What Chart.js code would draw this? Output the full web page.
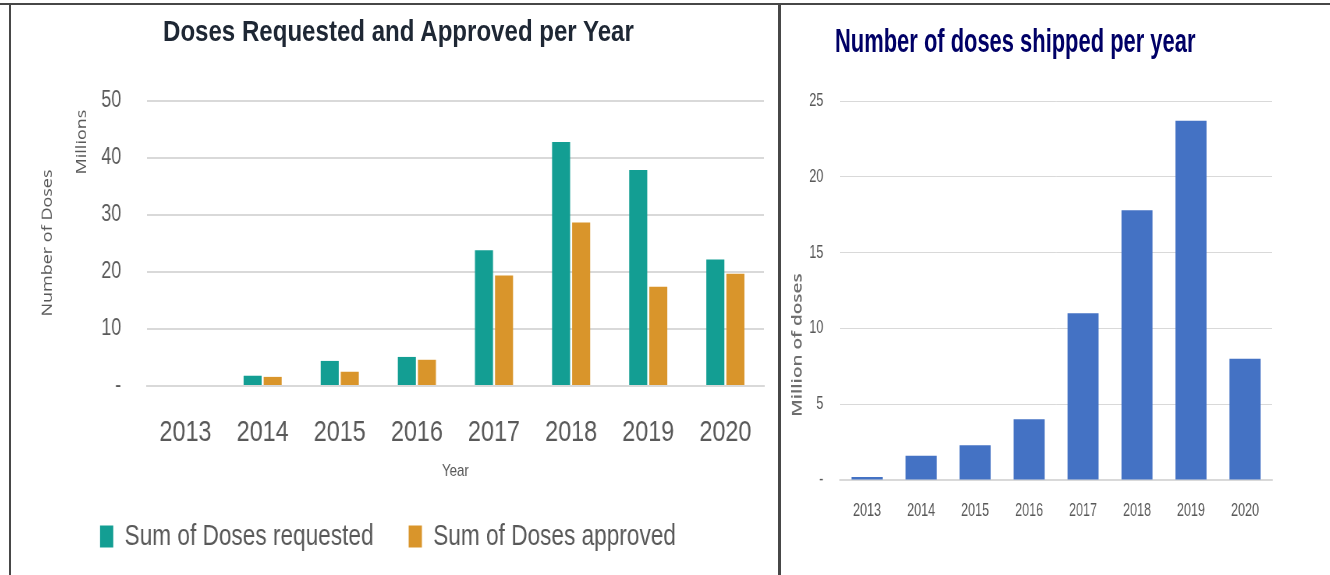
<!DOCTYPE html>
<html>
<head>
<meta charset="utf-8">
<script src="https://cdn.jsdelivr.net/npm/chart.js@4/dist/chart.umd.min.js"></script>
<style>
  body { margin: 0; width: 1330px; height: 575px; background: #fff; position: relative; overflow: hidden; }
  .box { position: absolute; top: 0; height: 575px; transform-origin: 0 0; }
  .line { position: absolute; background: #474747; }
  .title { position: absolute; font-family: 'Liberation Sans', sans-serif; font-weight: bold; line-height: 1; white-space: nowrap; transform-origin: 0 0; }
</style>
</head>
<body>
<!-- charts are drawn wide and squeezed horizontally to mimic the condensed look of the original -->
<div class="box" style="left:12px;width:982px;transform:scaleX(0.78)"><canvas id="leftChart"></canvas></div>
<div class="box" style="left:782px;width:783px;transform:scaleX(0.7)"><canvas id="rightChart"></canvas></div>
<div class="line" style="left:0;top:3px;width:1330px;height:2px"></div>
<div class="line" style="left:9px;top:3px;width:2px;height:572px"></div>
<div class="line" style="left:778px;top:3px;width:3px;height:572px"></div>
<div class="title" style="left:163px;top:17px;font-size:29px;color:#1e2734;transform:scaleX(0.83)">Doses Requested and Approved per Year</div>
<div class="title" style="left:835px;top:24px;font-size:33px;color:#000066;transform:scaleX(0.664)">Number of doses shipped per year</div>
<script>
  // Data (millions of doses)
  const years = ['2013', '2014', '2015', '2016', '2017', '2018', '2019', '2020'];
  const dosesRequested = [0, 1.8, 4.4, 5.1, 23.8, 42.8, 37.9, 22.2];
  const dosesApproved = [0, 1.6, 2.5, 4.6, 19.4, 28.7, 17.4, 19.7];
  const dosesShipped = [0.2, 1.6, 2.3, 4.0, 11.0, 17.8, 23.7, 8.0];
  const leftTicks = [0, 10, 20, 30, 40, 50];
  const rightTicks = [0, 5, 10, 15, 20, 25];

  const grey = '#595959';
  const gridColor = '#d9d9d9';

  Chart.defaults.font.family = "'Liberation Sans', sans-serif";
  Chart.defaults.color = grey;
  Chart.defaults.animation = false;
  Chart.defaults.maintainAspectRatio = false;

  function dashZero(value) {
    return value === 0 ? '-' : value;
  }

  // rotated axis captions, positions in canvas pixels
  const sideLabels = {
    id: 'sideLabels',
    afterDraw(chart, args, opts) {
      const ctx = chart.ctx;
      opts.items.forEach(item => {
        ctx.save();
        ctx.translate(item.x, item.y);
        ctx.rotate(-Math.PI / 2);
        ctx.font = item.font;
        ctx.fillStyle = item.color;
        ctx.textAlign = 'center';
        ctx.textBaseline = 'middle';
        ctx.fillText(item.text, 0, 0);
        ctx.restore();
      });
    }
  };

  new Chart(document.getElementById('leftChart'), {
    type: 'bar',
    data: {
      labels: years,
      datasets: [
        { label: 'Sum of Doses requested', data: dosesRequested, backgroundColor: '#139e93',
          categoryPercentage: 0.52, barPercentage: 0.9 },
        { label: 'Sum of Doses approved', data: dosesApproved, backgroundColor: '#d9952b',
          categoryPercentage: 0.52, barPercentage: 0.9 }
      ]
    },
    options: {
      layout: { padding: { left: 0, right: 18, top: 101, bottom: 14 } },
      plugins: {
        tooltip: { enabled: false },
        legend: {
          position: 'bottom',
          labels: { boxWidth: 17, boxHeight: 22, padding: 45, font: { size: 29 }, color: grey }
        },
        sideLabels: {
          items: [
            { text: 'Number of Doses', x: 46, y: 243, font: "18px 'Open Sans', sans-serif", color: grey },
            { text: 'Millions', x: 90, y: 142, font: "18px 'Open Sans', sans-serif", color: grey }
          ]
        }
      },
      scales: {
        x: {
          afterFit(scale) { scale.height = 91; },
          grid: { display: false },
          border: { color: gridColor, width: 2 },
          ticks: { font: { size: 30 }, padding: 21 },
          title: { display: true, text: 'Year', font: { size: 17 }, padding: { top: 0, bottom: -5 } }
        },
        y: {
          min: 0, max: 50,
          afterBuildTicks(scale) { scale.ticks = leftTicks.map(v => ({ value: v })); },
          afterFit(scale) { scale.width = 173; },
          grid: { color: gridColor, lineWidth: 2, drawTicks: false },
          border: { display: false },
          ticks: { font: { size: 23 }, padding: 33, callback: dashZero }
        }
      }
    },
    plugins: [sideLabels]
  });

  new Chart(document.getElementById('rightChart'), {
    type: 'bar',
    data: {
      labels: years,
      datasets: [
        { label: 'Doses shipped', data: dosesShipped, backgroundColor: '#4472c4',
          categoryPercentage: 0.8, barPercentage: 0.72 }
      ]
    },
    options: {
      layout: { padding: { left: 0, right: 83, top: 101, bottom: 0 } },
      plugins: {
        tooltip: { enabled: false },
        legend: { display: false },
        sideLabels: {
          items: [
            { text: 'Million of doses', x: 23, y: 345, font: "600 19px 'Open Sans', sans-serif", color: '#6e6e6e' }
          ]
        }
      },
      scales: {
        x: {
          afterFit(scale) { scale.height = 95; },
          grid: { display: false },
          border: { color: gridColor, width: 2 },
          ticks: { font: { size: 18 }, padding: 12 }
        },
        y: {
          min: 0, max: 25,
          afterBuildTicks(scale) { scale.ticks = rightTicks.map(v => ({ value: v })); },
          afterFit(scale) { scale.width = 83; },
          grid: { color: gridColor, lineWidth: 1, drawTicks: false },
          border: { display: false },
          ticks: { font: { size: 18 }, padding: 24, callback: dashZero }
        }
      }
    },
    plugins: [sideLabels]
  });
</script>
</body>
</html>
